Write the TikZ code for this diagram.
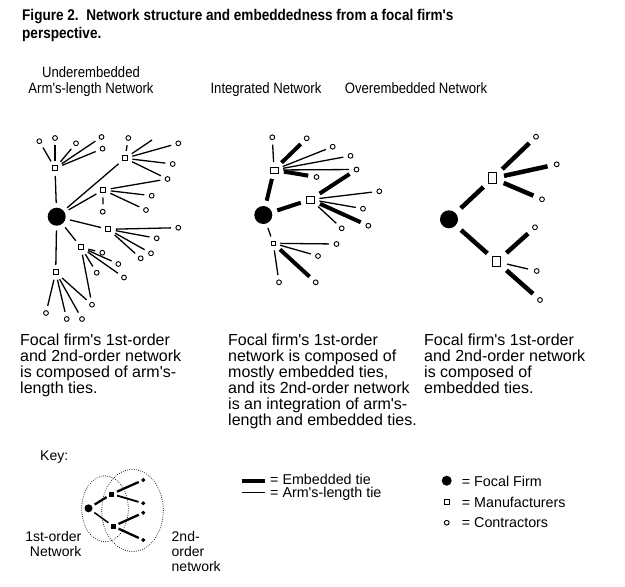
\documentclass[tikz,border=0pt]{standalone}
\usepackage{fontspec}
\setmainfont{Liberation Sans}
\newfontfamily\narrowfont[FakeStretch=0.875]{Liberation Sans}
\usetikzlibrary{positioning}

\newcommand{\apos}{\textquotesingle}

\begin{document}
\begin{tikzpicture}[x=1pt,y=-1pt,
  focal/.style={circle,fill=black,minimum size=18pt,inner sep=0pt},
  maker/.style={rectangle,draw,line width=1pt,minimum size=5pt,inner sep=0pt},
  contractor/.style={circle,draw,line width=0.9pt,minimum size=4.8pt,inner sep=0pt},
  arm/.style={line width=1.3pt,shorten <=4.5pt,shorten >=4.5pt},
  emb/.style={line width=4pt,shorten <=4.5pt,shorten >=4.5pt},
  orbit/.style={line width=1pt,dash pattern=on 0pt off 2.2pt,line cap=round},
  figtitle/.style={font=\narrowfont\bfseries\fontsize{15.5}{18}\selectfont,align=left,inner sep=0pt},
  heading/.style={font=\narrowfont\fontsize{15}{16}\selectfont,align=center,inner sep=0pt},
  remark/.style={font=\fontsize{16}{16}\selectfont,align=left,inner sep=0pt},
  legtext/.style={font=\fontsize{14.3}{15}\selectfont,inner sep=0pt},
  keytext/.style={font=\fontsize{14}{15}\selectfont,inner sep=0pt}
]
\useasboundingbox (0,0) rectangle (625,587);

%Titles:
\node (T) [figtitle,anchor=north west] at (22,9) {Figure 2.\ \ Network structure and embeddedness from a focal firm's\\perspective.};
\node (HU) [heading,anchor=north] at (91,66) {Underembedded\\Arm's-length Network};
\node (HI) [heading,anchor=north] at (266,82) {Integrated Network};
\node (HO) [heading,anchor=north] at (416,82) {Overembedded Network};

%Underembedded network:
\node (UF) [focal] at (56.7,216.7) {};
\node (UM1) [maker] at (55,168.3) {};
\node (UM2) [maker] at (125,158.3) {};
\node (UM3) [maker] at (103.3,190) {};
\node (UM4) [maker] at (108.3,229.3) {};
\node (UM5) [maker] at (81,247.3) {};
\node (UM6) [maker] at (55.7,272.3) {};
\node (UC1) [contractor] at (39.3,141.2) {};
\node (UC2) [contractor] at (55,138) {};
\node (UC3) [contractor] at (76,143.3) {};
\node (UC4) [contractor] at (101.5,137) {};
\node (UC5) [contractor] at (102.5,148.7) {};
\node (UC6) [contractor] at (128.3,138) {};
\node (UC7) [contractor] at (178.3,143.3) {};
\node (UC8) [contractor] at (172.7,164) {};
\node (UC9) [contractor] at (167.5,179) {};
\node (UC10) [contractor] at (151.7,195.7) {};
\node (UC11) [contractor] at (146,210) {};
\node (UC12) [contractor] at (102.7,211.7) {};
\node (UC13) [contractor] at (178.3,227.7) {};
\node (UC14) [contractor] at (156.7,238.3) {};
\node (UC15) [contractor] at (151,253.3) {};
\node (UC16) [contractor] at (140.7,258.3) {};
\node (UC17) [contractor] at (102.3,252.7) {};
\node (UC18) [contractor] at (118.3,264) {};
\node (UC19) [contractor] at (124,277.5) {};
\node (UC20) [contractor] at (96.7,272.7) {};
\node (UC21) [contractor] at (92,304.7) {};
\node (UC22) [contractor] at (46,313) {};
\node (UC23) [contractor] at (66.7,319) {};
\node (UC24) [contractor] at (82,319) {};
\coordinate (UX) at (152,140);
\path [arm]
(UF) edge (UM1) (UF) edge (UM2) (UF) edge (UM3)
(UF) edge (UM4) (UF) edge (UM5) (UF) edge (UM6)
(UM1) edge (UC1) (UM1) edge (UC2) (UM1) edge (UC3) (UM1) edge (UC4) (UM1) edge (UC5)
(UM2) edge (UC6) (UM2) edge [shorten >=0pt] (UX) (UM2) edge (UC7) (UM2) edge (UC8) (UM2) edge (UC9)
(UM3) edge (UC9) (UM3) edge (UC10) (UM3) edge (UC11) (UM3) edge (UC12)
(UM4) edge (UC13) (UM4) edge (UC14) (UM4) edge (UC15) (UM4) edge (UC16)
(UM5) edge (UC17) (UM5) edge (UC18) (UM5) edge (UC19) (UM5) edge (UC20) (UM5) edge (UC21)
(UM6) edge (UC21) (UM6) edge (UC22) (UM6) edge (UC23) (UM6) edge (UC24)
;

%Integrated network:
\node (IF) [focal] at (263.3,215) {};
\node (IM1) [maker,minimum width=8pt,minimum height=6pt] at (274,170) {};
\node (IM2) [maker,minimum width=8pt,minimum height=7pt] at (310.5,199.5) {};
\node (IM3) [maker,minimum size=4.2pt] at (273.3,243.3) {};
\node (IC1) [contractor] at (272.3,137.3) {};
\node (IC2) [contractor] at (306.7,138.3) {};
\node (IC3) [contractor] at (332.7,146.7) {};
\node (IC4) [contractor] at (350.5,155.8) {};
\node (IC5) [contractor] at (356.5,169.5) {};
\node (IC6) [contractor] at (316.5,177) {};
\node (IC7) [contractor] at (379.3,191.3) {};
\node (IC8) [contractor] at (363,208.7) {};
\node (IC9) [contractor] at (368.3,225.7) {};
\node (IC10) [contractor] at (341.7,228.3) {};
\node (IC11) [contractor] at (336.5,244) {};
\node (IC12) [contractor] at (318,256) {};
\node (IC13) [contractor] at (279,282.3) {};
\node (IC14) [contractor] at (315.7,282.3) {};
\path [emb,shorten <=5.5pt,shorten >=5.5pt]
(IF) edge (IM1) (IF) edge (IM2)
(IM1) edge (IC2) (IM1) edge (IC6)
(IM2) edge (IC5) (IM2) edge (IC9)
(IM3) edge (IC14)
;
\path [arm]
(IF) edge (IM3)
(IM1) edge (IC1) (IM1) edge (IC3) (IM1) edge (IC4) (IM1) edge (IC5)
(IM2) edge (IC7) (IM2) edge (IC8) (IM2) edge (IC10)
(IM3) edge (IC11) (IM3) edge (IC12) (IM3) edge (IC13)
;

%Overembedded network:
\node (OF) [focal] at (449,219.3) {};
\node (OM1) [maker,minimum width=8pt,minimum height=11pt] at (492.7,178.3) {};
\node (OM2) [maker,minimum width=8pt,minimum height=10pt] at (496.7,261.7) {};
\node (OC1) [contractor] at (536,136.7) {};
\node (OC2) [contractor] at (556.7,164.3) {};
\node (OC3) [contractor] at (542,199.3) {};
\node (OC4) [contractor] at (535,227.3) {};
\node (OC5) [contractor] at (536.7,271) {};
\node (OC6) [contractor] at (540,300) {};
\path [emb,line width=4.5pt,shorten <=7pt,shorten >=6.5pt]
(OF) edge (OM1) (OF) edge (OM2)
(OM1) edge (OC1) (OM1) edge (OC2) (OM1) edge (OC3)
(OM2) edge (OC4) (OM2) edge (OC6)
;
\path [arm,shorten <=6pt,shorten >=6pt]
(OM2) edge (OC5)
;

%Descriptions:
\node (DU) [remark,anchor=north west] at (20,334) {Focal firm\apos s 1st-order\\and 2nd-order network\\is composed of arm\apos s-\\length ties.};
\node (DI) [remark,anchor=north west] at (228,334) {Focal firm\apos s 1st-order\\network is composed of\\mostly embedded ties,\\and its 2nd-order network\\is an integration of arm\apos s-\\length and embedded ties.};
\node (DO) [remark,anchor=north west] at (424,334) {Focal firm\apos s 1st-order\\and 2nd-order network\\is composed of\\embedded ties.};

%Key:
\node (K) [keytext,anchor=west] at (40,457) {Key:};
\draw [orbit] (105,508.8) ellipse [x radius=23.3pt,y radius=33pt];
\draw [orbit] (132.5,510.5) ellipse [x radius=30.8pt,y radius=41pt];
\node (KF) [focal,minimum size=8pt] at (88.5,508.3) {};
\node (KM1) [maker,fill=black,minimum size=4pt] at (111.7,494) {};
\node (KM2) [maker,fill=black,minimum size=4pt] at (113.3,526.3) {};
\node (KC1) [contractor,fill=black,minimum size=3pt] at (143.3,480) {};
\node (KC2) [contractor,fill=black,minimum size=3pt] at (143.3,503.3) {};
\node (KC3) [contractor,fill=black,minimum size=3pt] at (143.3,512.7) {};
\node (KC4) [contractor,fill=black,minimum size=3pt] at (143.3,540) {};
\path [arm,shorten <=3pt,shorten >=3pt]
(KF) edge [line width=2.3pt] (KM1) (KF) edge [line width=1.5pt] (KM2)
(KM1) edge [line width=2.3pt] (KC1) (KM1) edge [line width=1.8pt] (KC2)
(KM2) edge [line width=2.3pt] (KC3) (KM2) edge [line width=2.3pt] (KC4)
;
\node (K1) [keytext,align=right,anchor=north east] at (81.5,531) {1st-order\\Network};
\node (K2) [keytext,align=left,anchor=north west] at (171.5,531) {2nd-\\order\\network};

%Legend:
\coordinate (E1) at (241.7,480.7);
\coordinate (E2) at (265,480.7);
\coordinate (A1) at (241.7,492.7);
\coordinate (A2) at (265,492.7);
\draw [line width=4pt] (E1) -- (E2);
\draw [line width=1.3pt] (A1) -- (A2);
\node (TE) [legtext,right=5pt of E2,yshift=1pt] {= Embedded tie};
\node (TA) [legtext,right=5pt of A2,yshift=-1.5pt] {= Arm\apos s-length tie};
\node (LF) [focal,minimum size=10pt] at (446.7,480.7) {};
\node (LM) [maker] at (446.7,501.7) {};
\node (LC) [contractor] at (446.7,522.7) {};
\node (TF) [legtext,anchor=west] at (461.7,481) {= Focal Firm};
\node (TM) [legtext,anchor=west] at (461.7,502) {= Manufacturers};
\node (TC) [legtext,anchor=west] at (461.7,522.5) {= Contractors};
\end{tikzpicture}
\end{document}
